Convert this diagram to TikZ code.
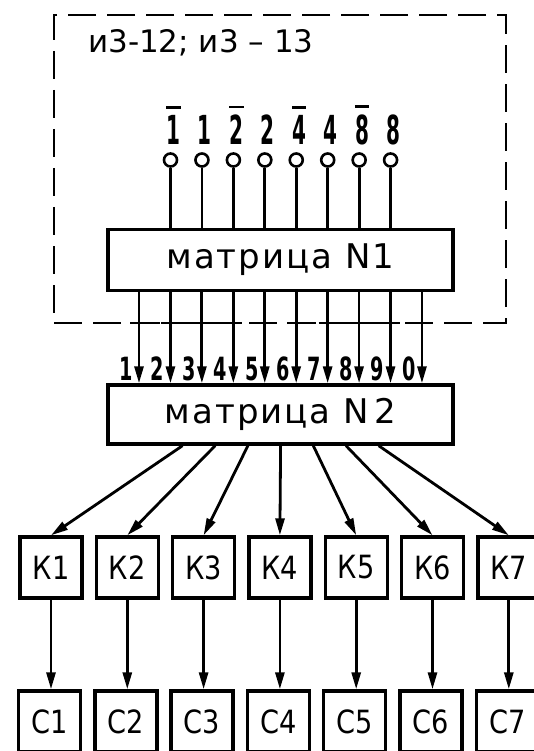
\documentclass[tikz,border=0pt]{standalone}
\usepackage{fontspec}
\setmainfont{DejaVu Sans}
\newfontfamily\df[LetterSpace=6]{DejaVu Sans}
\usetikzlibrary{arrows.meta}
\begin{document}
\begin{tikzpicture}[x=1pt,y=-1pt,
  wire/.style={line width=2.8pt},
  arr/.style={line width=2.8pt,-{Triangle[length=17pt,width=9pt]}},
  blk/.style={draw,line width=3.4pt,minimum width=345pt,minimum height=61pt,inner sep=0pt,font=\df\fontsize{34}{34}\selectfont},
  kbox/.style={draw,line width=3.4pt,minimum width=62pt,minimum height=61pt,inner sep=0pt,font=\fontsize{32}{32}\selectfont},
  pin/.style={circle,draw,line width=2.6pt,minimum size=13pt,inner sep=0pt},
  dig/.style={inner sep=0pt,font=\bfseries\fontsize{32}{32}\selectfont},
  indig/.style={inner sep=0pt,font=\bfseries\fontsize{40}{40}\selectfont},
  framebox/.style={draw,line width=2.6pt,dash pattern=on 28pt off 11pt,minimum width=452pt,minimum height=308pt,inner sep=0pt}
]
\useasboundingbox (0,0) rectangle (534,751);
\clip (0,0) rectangle (534,751);

% dashed frame
\node[framebox] (fr) at (280,169) {};
\node[anchor=west,inner sep=0pt,font=\fontsize{31}{31}\selectfont] (title) at (88,43) {и3-12; и3 – 13};

% matrices
\node[blk] (N1) at (280.5,260) {матрица N1};
\node[blk,minimum height=59pt] (N2) at (280.5,414.5) {матрица N\,2\hspace{16pt}};

% inputs
\foreach \d/\b [count=\j] in {1/1,1/0,2/1,2/0,4/1,4/0,8/1,8/0}{
  \pgfmathsetmacro\x{170.5+31.44*(\j-1)}
  \pgfmathsetmacro\xl{\x+3}
  \node[pin] (p\j) at (\x,160) {};
  \draw[wire] (p\j.south) -- (p\j |- N1.north);
  \node[indig] (l\j) at (\xl,130) {\scalebox{0.5}[1]{\d}};
  \ifnum\b=1
    \draw[line width=2.6pt] ([yshift=8pt]l\j.north west) -- ([yshift=8pt]l\j.north east);
  \fi
}

% N1 -> N2
\foreach \d [count=\i] in {1,2,3,4,5,6,7,8,9,0}{
  \pgfmathsetmacro\dx{-141.5+31.44*(\i-1)}
  \pgfmathsetmacro\xa{280.5+\dx-9}
  \pgfmathsetmacro\xb{280.5+\dx+9}
  \pgfmathsetmacro\xd{280.5+\dx-13}
  \draw[arr] ([xshift=\dx pt]N1.south) -- ([xshift=\dx pt]N2.north);
  \draw[line width=2.6pt] (\xa,323) -- (\xb,323);
  \node[dig] (o\i) at (\xd,369) {\scalebox{0.6}[1]{\d}};
}

% K and C
\foreach \i in {1,...,7}{
  \pgfmathsetmacro\x{51+76.3*(\i-1)}
  \pgfmathsetmacro\xc{\x-1.5}
  \pgfmathsetmacro\dx{-98+32.7*(\i-1)}
  \node[kbox] (K\i) at (\x,567.5) {\scalebox{0.85}[1]{К\i}};
  \node[kbox] (C\i) at (\xc,721.5) {\scalebox{0.85}[1]{С\i}};
  \draw[arr] ([xshift=\dx pt]N2.south) -- (K\i.north);
  \draw[arr] (K\i.south) -- (K\i.south |- C\i.north);
}
\end{tikzpicture}
\end{document}
